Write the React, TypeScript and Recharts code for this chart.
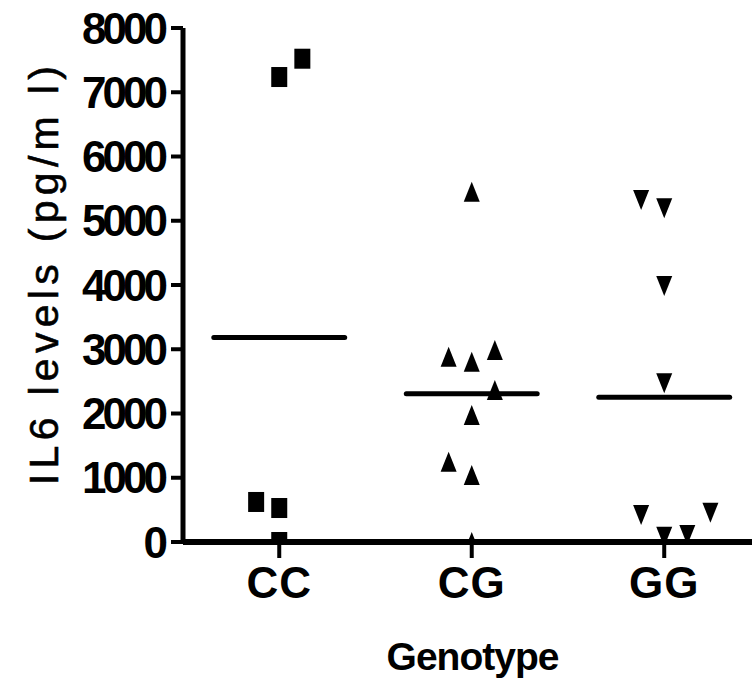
import { useId } from "react";
import * as R from "recharts";
import { ScatterChart, Scatter, XAxis, YAxis, ReferenceLine, Label } from "recharts";

const font = "'Liberation Sans', Arial, sans-serif";

const genotypes = ["CC", "CG", "GG"];
const yTicks = [0, 1000, 2000, 3000, 4000, 5000, 6000, 7000, 8000];

// IL6 levels (pg/ml) per genotype, spread = horizontal side-by-side offset of the dot
const ccLevels = [7237, 7522, 623, 529, 0];
const ccSpread = [0, 0.12, -0.12, 0, 0];

const cgLevels = [5452, 2884, 2806, 2988, 2366, 1977, 1250, 1043, 0];
const cgSpread = [0, -0.12, 0, 0.12, 0.12, 0, -0.12, 0, 0];

const ggLevels = [5323, 5194, 3984, 2470, 420, 456, 82, 109];
const ggSpread = [-0.12, 0, 0, 0, -0.12, 0.24, 0, 0.12];

const toPoints = (group: number, levels: number[], spread: number[]) =>
  levels.map((v, i) => ({ x: group + spread[i], y: v }));

const mean = (a: number[]) => a.reduce((s, v) => s + v, 0) / a.length;

const ccData = toPoints(1, ccLevels, ccSpread);
const cgData = toPoints(2, cgLevels, cgSpread);
const ggData = toPoints(3, ggLevels, ggSpread);

const means = [mean(ccLevels), mean(cgLevels), mean(ggLevels)];

// markers are cut off at the plot edge, like the original
const usePlotAreaSafe: () => any = (R as any).usePlotArea ?? (() => undefined);

function Clipped({ children }: { children: any }) {
  const area = usePlotAreaSafe();
  const id = useId().replace(/:/g, "");
  if (!area) return children;
  return (
    <g>
      <defs>
        <clipPath id={`m${id}`}>
          <rect x={area.x} y={area.y} width={area.width} height={area.height} />
        </clipPath>
      </defs>
      <g clipPath={`url(#m${id})`}>{children}</g>
    </g>
  );
}

function Square(props: any) {
  const { cx, cy } = props;
  return (
    <Clipped>
      <rect x={cx - 8} y={cy - 10} width={16} height={20} fill="#000" />
    </Clipped>
  );
}

function TriangleUp(props: any) {
  const { cx, cy } = props;
  return (
    <Clipped>
      <polygon points={`${cx - 8},${cy + 10} ${cx + 8},${cy + 10} ${cx},${cy - 10}`} fill="#000" />
    </Clipped>
  );
}

function TriangleDown(props: any) {
  const { cx, cy } = props;
  return (
    <Clipped>
      <polygon points={`${cx - 8},${cy - 10} ${cx + 8},${cy - 10} ${cx},${cy + 10}`} fill="#000" />
    </Clipped>
  );
}

function YTitle(props: any) {
  const { viewBox } = props;
  const x = viewBox.x + 44;
  const y = viewBox.y + viewBox.height / 2 - 12;
  return (
    <text
      x={x}
      y={y}
      transform={`rotate(-90, ${x}, ${y})`}
      textAnchor="middle"
      dominantBaseline="central"
      fontFamily={font}
      fontSize={41}
      letterSpacing={5.3}
      stroke="#000"
      strokeWidth={0.6}
      fill="#000"
    >
      IL6 levels (pg/m l)
    </text>
  );
}

function XTitle(props: any) {
  const { viewBox } = props;
  return (
    <text
      x={viewBox.x + viewBox.width / 2 + 5}
      y={viewBox.y + 128}
      textAnchor="middle"
      fontFamily={font}
      fontSize={39}
      fontWeight={700}
      letterSpacing={-1}
      fill="#000"
    >
      Genotype
    </text>
  );
}

export default function App() {
  return (
    <div style={{ position: "absolute", left: 0, top: 0, background: "#fff" }}>
      <ScatterChart width={752} height={690} margin={{ top: 28, right: 0, bottom: 0, left: 0 }}>
        <XAxis
          type="number"
          dataKey="x"
          domain={[0.5, 3.456]}
          allowDataOverflow
          ticks={[1, 2, 3]}
          interval={0}
          tickFormatter={(v) => genotypes[Math.round(v) - 1]}
          height={148}
          axisLine={{ stroke: "#000", strokeWidth: 6 }}
          tickLine={{ stroke: "#000", strokeWidth: 4 }}
          tickSize={16}
          tickMargin={9}
          tick={{ fill: "#000", fontSize: 44, fontWeight: 700, fontFamily: font, letterSpacing: 1 }}
        >
          <Label content={<XTitle />} />
        </XAxis>
        <YAxis
          type="number"
          dataKey="y"
          domain={[0, 8000]}
          allowDataOverflow
          ticks={yTicks}
          interval={0}
          width={183}
          axisLine={{ stroke: "#000", strokeWidth: 5 }}
          tickLine={{ stroke: "#000", strokeWidth: 4 }}
          tickSize={12}
          tickMargin={7}
          tick={{ fill: "#000", fontSize: 44, fontWeight: 700, fontFamily: font, letterSpacing: -4 }}
        >
          <Label content={<YTitle />} />
        </YAxis>
        <Scatter data={ccData} shape={<Square />} isAnimationActive={false} />
        <Scatter data={cgData} shape={<TriangleUp />} isAnimationActive={false} />
        <Scatter data={ggData} shape={<TriangleDown />} isAnimationActive={false} />
        {means.map((m, i) => (
          <ReferenceLine
            key={genotypes[i]}
            segment={[
              { x: i + 1 - 0.34, y: m },
              { x: i + 1 + 0.34, y: m },
            ]}
            stroke="#000"
            strokeWidth={5}
            strokeLinecap="round"
          />
        ))}
      </ScatterChart>
    </div>
  );
}
